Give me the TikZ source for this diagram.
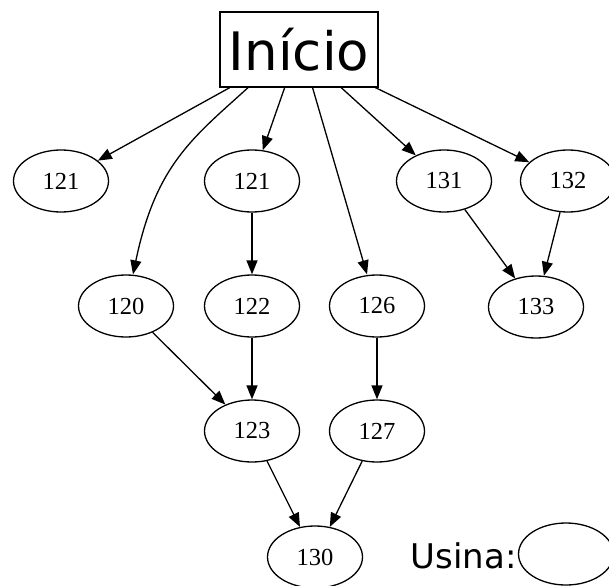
\documentclass[tikz,border=0pt]{standalone}
\usepackage{fontspec}
\setmainfont{Liberation Serif}
\newfontfamily\dvs{DejaVu Sans}
\usetikzlibrary{shapes.geometric,arrows.meta,calc}
\begin{document}
\begin{tikzpicture}[x=1pt,y=-1pt,
  nd/.style={draw,ellipse,line width=1.3pt,minimum width=95pt,minimum height=62pt,inner sep=0pt,font=\fontsize{24.5}{24.5}\selectfont},
  arr/.style={line width=1.3pt,-{Triangle[length=14pt,width=11pt]}}]
\useasboundingbox (0,0) rectangle (609,585);
\node[draw,line width=1.3pt,minimum width=158pt,minimum height=75pt,inner sep=0pt,font=\dvs\fontsize{53}{53}\selectfont] (ini) at (299,49.5) {Início};
\node[nd] (a121) at (61,181) {121};
\node[nd] (b121) at (252,181) {121};
\node[nd] (n131) at (444,181) {131};
\node[nd] (n132) at (568,181) {132};
\node[nd] (n120) at (126,306) {120};
\node[nd] (n122) at (252,306) {122};
\node[nd] (n126) at (377,306) {126};
\node[nd] (n133) at (536,307) {133};
\node[nd] (n123) at (252,431) {123};
\node[nd] (n127) at (377,431) {127};
\node[nd] (n130) at (315,557) {130};
\node[font=\dvs\fontsize{34}{34}\selectfont,anchor=east,inner sep=0pt] (lab) at (517,556) {Usina:};
\node[nd] (leg) at (566,554) {};
\coordinate (s1) at ($(ini.south west)!0.065!(ini.south east)$);
\coordinate (s2) at ($(ini.south west)!0.18!(ini.south east)$);
\coordinate (s3) at ($(ini.south west)!0.41!(ini.south east)$);
\coordinate (s4) at ($(ini.south west)!0.585!(ini.south east)$);
\coordinate (s5) at ($(ini.south west)!0.765!(ini.south east)$);
\coordinate (s6) at ($(ini.south west)!0.98!(ini.south east)$);
\draw[arr] (s1) -- (a121);
\draw[arr] (s2) .. controls ($(s2)+(-55,50)$) and ($(n120.north)+(30,-110)$) .. ($(n120.north)+(7,0)$);
\draw[arr] (s3) -- (b121);
\draw[arr] (s4) -- ($(n126.north)+(-10,0)$);
\draw[arr] (s5) -- (n131);
\draw[arr] (s6) -- (n132);
\draw[arr] (b121) -- (n122);
\draw[arr] (n120) -- (n123);
\draw[arr] (n122) -- (n123);
\draw[arr] (n126) -- (n127);
\draw[arr] (n123) -- (n130);
\draw[arr] (n127) -- (n130);
\draw[arr] (n131) -- (n133);
\draw[arr] (n132) -- (n133);
\end{tikzpicture}
\end{document}
